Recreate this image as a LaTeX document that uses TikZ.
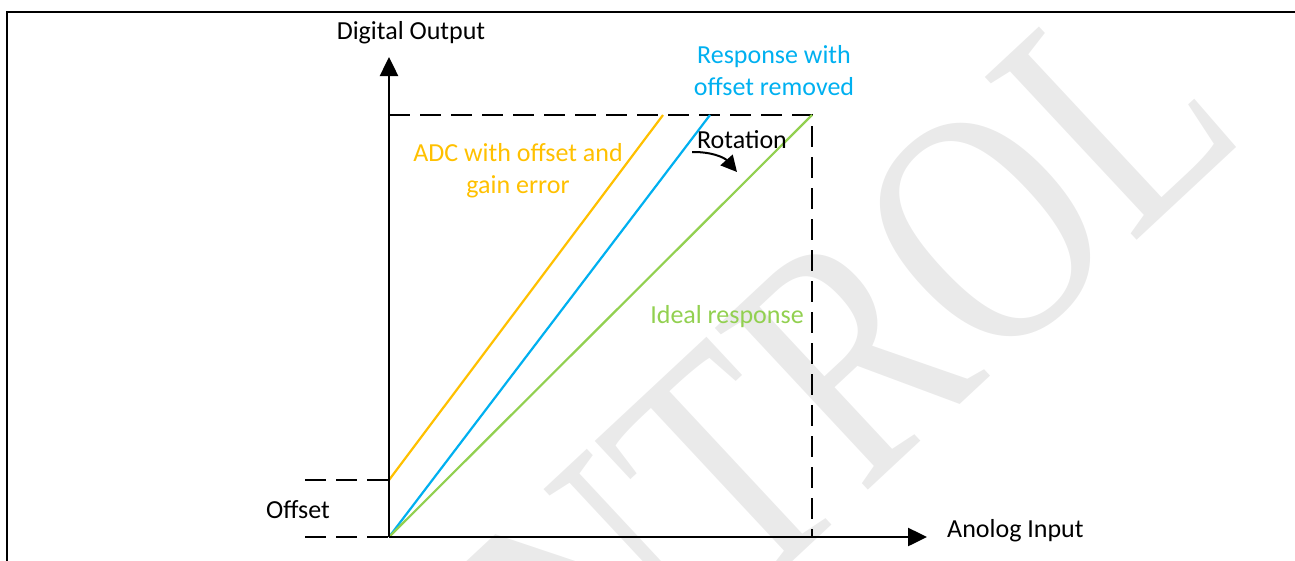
\documentclass[tikz,border=0pt]{standalone}
\usepackage{fontspec}
\setmainfont{Carlito}
\newfontfamily\wmfont{Liberation Serif}
\usetikzlibrary{arrows.meta,positioning}
\definecolor{adcorange}{HTML}{FFC000}
\definecolor{adcblue}{HTML}{00B0F0}
\definecolor{adcgreen}{HTML}{92D050}
\definecolor{wmgray}{HTML}{EAEAEA}

\begin{document}
\begin{tikzpicture}[x=1pt,y=-1pt]

	\tikzset{axis/.style = {line width=2.5pt,-{Triangle[length=19pt,width=18pt]}}}
	\tikzset{guide/.style = {line width=2.5pt,dash pattern=on 21pt off 10pt}}
	\tikzset{resp/.style = {line width=2.2pt}}
	\tikzset{lbl/.style = {font=\fontsize{26}{32}\selectfont,align=center,inner sep=0pt}}

	\useasboundingbox (0,0) rectangle (1295,560);

	% watermark
	\node[rotate=43,anchor=base east,text=wmgray,inner sep=0pt] (wm) at (1250,135)
		{\scalebox{0.78}[1]{\wmfont\fontsize{340}{340}\selectfont CONTROL}};
	\draw[line width=2.5pt] (7,580) -- (7,12) -- (1300,12);

	\coordinate (o) at (389,537);
	\coordinate (ytip) at (389,57);
	\coordinate (xtip) at (927,537);
	\coordinate (tl) at (389,115);
	\coordinate (tr) at (812,115);
	\coordinate (br) at (812,537);
	\coordinate (off) at (389,480);
	\coordinate (offl) at (305,480);
	\coordinate (ol) at (305,537);
	\coordinate (ortop) at (663,115);
	\coordinate (bltop) at (710,115);
	\coordinate (rota) at (692,152);
	\coordinate (rotb) at (737,172);

	\draw[guide] (tl) -- (tr) -- (br);
	\draw[guide] (offl) -- (off);
	\draw[guide] (ol) -- (o);

	\draw[resp,adcorange] (off) -- (ortop);
	\draw[resp,adcblue] (o) -- (bltop);
	\draw[resp,adcgreen] (o) -- (tr);

	\draw[axis] (o) -- (ytip);
	\draw[axis] (o) -- (xtip);

	\node[lbl,anchor=base] (yname) at (411,39) {Digital Output};
	\node[lbl,anchor=base west] (xname) at (947,537) {Anolog Input};
	\node[lbl,anchor=base] (offname) at (298,518) {Offset};
	\node[lbl,text=adcorange] (adcname) at (518,171) {ADC with offset and\\gain error};
	\node[lbl,text=adcblue] (remname) at (774,71) {Response with\\offset removed};
	\node[lbl,text=adcgreen,anchor=base] (idname) at (727,323) {Ideal response};
	\node[lbl,anchor=base] (rotname) at (742,148) {Rotation};

	\draw[line width=2pt,-{Triangle[length=16pt,width=16pt]}] (rota) to[bend left=25] (rotb);
\end{tikzpicture}
\end{document}
